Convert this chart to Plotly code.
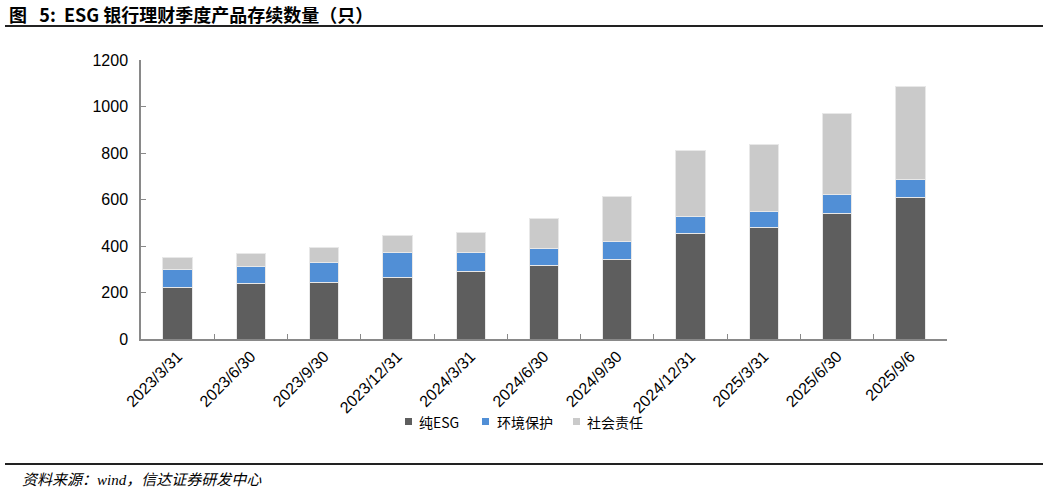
import plotly.graph_objects as go

categories = ["2023/3/31", "2023/6/30", "2023/9/30", "2023/12/31", "2024/3/31", "2024/6/30",
              "2024/9/30", "2024/12/31", "2025/3/31", "2025/6/30", "2025/9/6"]
pure_esg = [220, 238, 242, 264, 291, 315, 343, 453, 479, 539, 608]
env_protect = [78, 73, 85, 106, 79, 73, 75, 76, 70, 83, 80]
social_resp = [53, 56, 67, 77, 90, 132, 197, 281, 288, 346, 400]

series_names = ["纯ESG", "环境保护", "社会责任"]
colors = ["#5e5e5e", "#518fd6", "#cacaca"]

W, H = 1049, 494
l, r, t, b = 141, W - 947, 60, H - 339
pw, ph = W - l - r, H - t - b
def px(xp): return (xp - l) / pw
def py(yp): return (H - b - yp) / ph

fig = go.Figure()
for name, vals, col in zip(series_names, [pure_esg, env_protect, social_resp], colors):
    fig.add_trace(go.Bar(
        x=categories, y=vals, name=name,
        marker=dict(color=col, line=dict(color="#e8e8e8", width=1)),
        showlegend=False,
    ))

fig.update_layout(
    barmode="stack",
    bargap=0.6,
    width=W, height=H,
    margin=dict(l=l, r=r, t=t, b=b),
    plot_bgcolor="white", paper_bgcolor="white",
    font=dict(family="Liberation Sans, Arial, sans-serif", size=16, color="#000"),
    xaxis=dict(
        type="category", tickangle=-45, showline=True, linecolor="#898989", linewidth=1.5,
        ticks="inside", tickson="boundaries", ticklen=5, tickcolor="#898989",
        tickfont=dict(size=16), showgrid=False,
    ),
    yaxis=dict(
        range=[0, 1200], dtick=200, showline=True, linecolor="#898989", linewidth=1.5,
        ticks="inside", ticklen=5, tickcolor="#898989", showgrid=False, zeroline=False,
        tickfont=dict(size=16), ticklabelstandoff=8,
    ),
)

# title
fig.add_annotation(
    x=px(7), y=py(14), xref="paper", yref="paper",
    text="<b>图   5:  ESG 银行理财季度产品存续数量（只）</b>",
    showarrow=False, xanchor="left", yanchor="middle",
    font=dict(family="Noto Sans CJK SC, Liberation Sans, sans-serif", size=18, color="#000"),
)
# source
fig.add_annotation(
    x=px(20), y=py(480), xref="paper", yref="paper",
    text="<i>资料来源：wind，信达证券研发中心</i>",
    showarrow=False, xanchor="left", yanchor="middle",
    font=dict(family="Liberation Serif, Noto Sans CJK SC, serif", size=15, color="#000"),
)

# legend (manual, compact)
legend_pos = [(405, 417), (482, 495), (573, 585)]
for (sx, tx), name, col in zip(legend_pos, series_names, colors):
    fig.add_shape(type="rect", xref="paper", yref="paper",
                  x0=px(sx), x1=px(sx + 7), y0=py(418), y1=py(425),
                  fillcolor=col, line=dict(width=0))
    fig.add_annotation(
        x=px(tx), y=py(422), xref="paper", yref="paper", text=name,
        showarrow=False, xanchor="left", yanchor="middle",
        font=dict(family="Noto Sans CJK SC, Liberation Sans, sans-serif", size=14, color="#000"),
    )

for yline in (26, 464):
    fig.add_shape(type="line", xref="paper", yref="paper",
                  x0=px(5), x1=px(1043), y0=py(yline), y1=py(yline),
                  line=dict(color="#222", width=2))

fig.write_html("out.html", config={"displayModeBar": False},
               post_script="document.body.style.margin='0';")
